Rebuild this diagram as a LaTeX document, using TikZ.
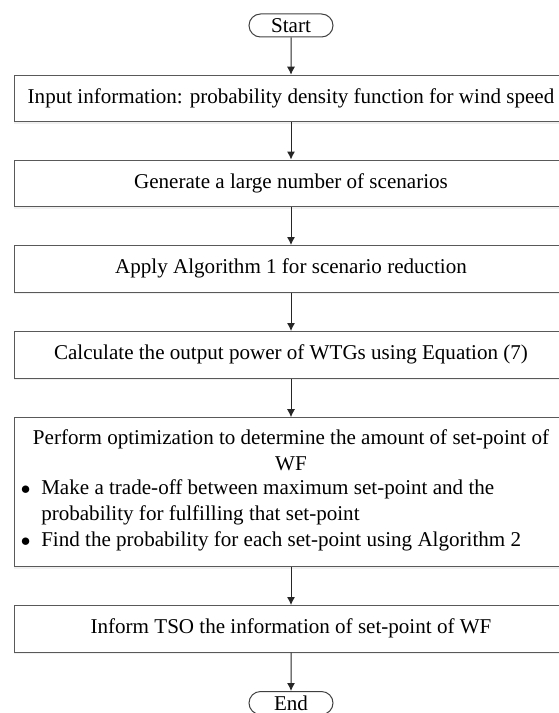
\documentclass[tikz,border=0pt]{standalone}
\usepackage{fontspec}
\setmainfont{Liberation Serif}
\usetikzlibrary{shapes.misc,arrows.meta,shadows}
\begin{document}
\begin{tikzpicture}[x=0.75pt,y=-0.75pt,
  font=\fontsize{15.8}{18.75}\selectfont,
  term/.style={draw=black!75, line width=0.75pt, rounded rectangle,
    minimum width=63pt, minimum height=17.25pt, inner sep=0pt},
  stepbox/.style={draw=black!65, line width=0.75pt, fill=white,
    minimum width=415.5pt, minimum height=34.9pt, inner sep=0pt,
    drop shadow={opacity=0.12, shadow xshift=0pt, shadow yshift=-1.5pt}},
  flow/.style={-{Latex[length=6pt,width=6pt]}, line width=0.75pt, black!85}]
\useasboundingbox (0,0) rectangle (559,713);

\node (start) at (291,25.5) [term] {Start};
\node (input) at (291,98.5) [stepbox] {Input information: probability density function for wind speed};
\node (gen) at (291,183.3) [stepbox] {Generate a large number of scenarios};
\node (red) at (291,268.8) [stepbox] {Apply Algorithm 1 for scenario reduction};
\node (pow) at (291,354.8) [stepbox] {Calculate the output power of WTGs using Equation (7)};
\node (opt) at (291,492.2) [stepbox, minimum height=111.75pt] {%
  \begin{minipage}{405pt}
  \fontsize{15.8}{19}\selectfont
  \centering Perform optimization to determine the amount of set-point of\\ WF\par
  \vspace{3pt}\raggedright
  \renewcommand\arraystretch{1.03}%
  \begin{tabular}{@{}l@{\hspace{8pt}}l@{}}
  $\bullet$ & Make a trade-off between maximum set-point and the\\
   & probability for fulfilling that set-point\\
  $\bullet$ & Find the probability for each set-point using Algorithm 2
  \end{tabular}
  \end{minipage}};
\node (tso) at (291,628.8) [stepbox] {Inform TSO the information of set-point of WF};
\node (end) at (291,703) [term] {End};

\draw[flow]
(start) -- (input);
\draw[flow] (input) -- (gen);
\draw[flow] (gen) -- (red);
\draw[flow] (red) -- (pow);
\draw[flow] (pow) -- (opt);
\draw[flow] (opt) -- (tso);
\draw[flow] (tso) -- (end);
\end{tikzpicture}
\end{document}
